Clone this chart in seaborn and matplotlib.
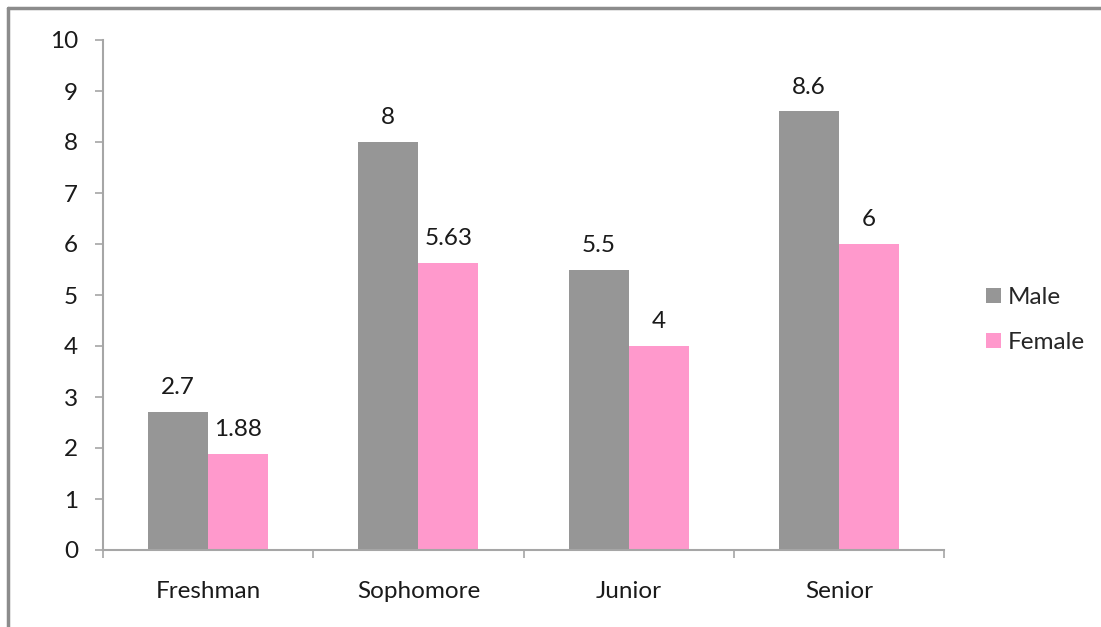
import matplotlib.pyplot as plt
import matplotlib.lines as mlines
import pandas as pd
import seaborn as sns

classes = ["Freshman", "Sophomore", "Junior", "Senior"]
male = [2.7, 8, 5.5, 8.6]
female = [1.88, 5.63, 4, 6]
valueLabels = {"Male": ["2.7", "8", "5.5", "8.6"], "Female": ["1.88", "5.63", "4", "6"]}
yTicks = [0, 1, 2, 3, 4, 5, 6, 7, 8, 9, 10]

colors = ["#969696", "#FF99CC"]
axisGray = "#a6a6a6"
textColor = "#1a1a1a"
fontSize = 17.5

df = pd.DataFrame({
    "Class": classes * 2,
    "Value": male + female,
    "Gender": ["Male"] * len(classes) + ["Female"] * len(classes)
})

sns.set_style("white")
plt.rcParams['font.family'] = ['Lato', 'DejaVu Sans']

fig = plt.figure(figsize=(11.01, 6.27), dpi=100)
ax = fig.add_axes([103 / 1101, 1 - 550 / 627, (944 - 103) / 1101, (550 - 40) / 627])

sns.barplot(x="Class", y="Value", hue="Gender", data=df, order=classes,
            hue_order=["Male", "Female"], palette=colors, width=0.571,
            saturation=1, linewidth=0, ax=ax, legend=True)

for container, name in zip(ax.containers, ["Male", "Female"]):
    ax.bar_label(container, labels=valueLabels[name], padding=10, fontsize=fontSize, color=textColor)

ax.set_xlim(-0.5, 3.5)
ax.set_ylim(0, 10)
ax.set_yticks(yTicks)
ax.set_xlabel("")
ax.set_ylabel("")

for side in ["top", "right"]:
    ax.spines[side].set_visible(False)
for side in ["left", "bottom"]:
    ax.spines[side].set_color(axisGray)
    ax.spines[side].set_linewidth(1.5)

ax.tick_params(axis="y", which="major", direction="out", length=6, width=1.2,
               color=axisGray, left=True, pad=12, labelsize=fontSize, labelcolor=textColor)
ax.tick_params(axis="x", which="major", length=0, pad=22, labelsize=fontSize, labelcolor=textColor)
ax.set_xticks([-0.5, 0.5, 1.5, 2.5, 3.5], minor=True)
ax.tick_params(axis="x", which="minor", direction="out", length=6, width=1.2,
               color=axisGray, bottom=True)

handles, labels = ax.get_legend_handles_labels()
ax.legend_.remove()
fig.legend(handles, labels, loc="center left", bbox_to_anchor=(986 / 1101, 1 - 320 / 627),
           frameon=False, fontsize=fontSize, handlelength=0.6, handleheight=0.6,
           labelspacing=1.0, handletextpad=0.3, borderpad=0, borderaxespad=0)

# outer frame, only top and left edges visible
frameGray = "#8c8c8c"
fig.add_artist(mlines.Line2D([8 / 1101, 1], [1 - 8 / 627, 1 - 8 / 627], color=frameGray, lw=2.5))
fig.add_artist(mlines.Line2D([8 / 1101, 8 / 1101], [0, 1 - 8 / 627], color=frameGray, lw=2.5))

plt.savefig("out.png", dpi=100)
plt.close()
